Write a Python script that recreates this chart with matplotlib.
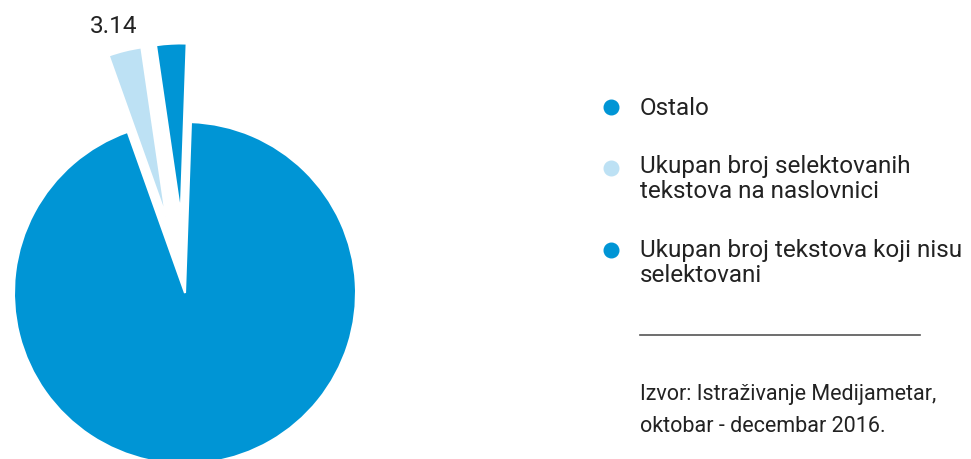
import matplotlib.pyplot as plt

# data
labels = ['Ostalo',
          'Ukupan broj selektovanih\ntekstova na naslovnici',
          'Ukupan broj tekstova koji nisu\nselektovani']
values = [94.0, 3.14, 2.86]
colors = ['#0095d5', '#bde1f4', '#0095d5']
explode = [0.0, 0.46, 0.46]
source = 'Izvor: Istraživanje Medijametar,\noktobar - decembar 2016.'

plt.rcParams['font.family'] = ['Roboto', 'DejaVu Sans']
txt_color = '#222222'

W, H = 971, 459
fig = plt.figure(figsize=(W / 100, H / 100), dpi=100)

# pie axes: 1 data unit = r_px pixels, centre at (cx, cy) px from bottom-left
r_px = 171
cx, cy = 185, 166
side = 2.5 * r_px
ax = fig.add_axes([(cx - side / 2) / W, (cy - side / 2) / H, side / W, side / H])
wedges, _ = ax.pie(values, colors=colors, explode=explode, startangle=88,
                   counterclock=False,
                   wedgeprops=dict(edgecolor='white', linewidth=1.5))
ax.set_xlim(-1.25, 1.25)
ax.set_ylim(-1.25, 1.25)
ax.set_aspect('equal')

# overlay in pixel coords (y down) for labels, legend and source
ov = fig.add_axes([0, 0, 1, 1])
ov.set_xlim(0, W)
ov.set_ylim(H, 0)
ov.axis('off')

# value label for the light slice
ov.text(113.5, 33, f'{values[1]:.2f}', fontsize=17.5, color=txt_color,
        ha='center', va='baseline')

dot_y = [107, 168, 250]
base_y = [115, 197.5, 281.5]   # baseline of the last line of each entry
for lab, c, dy, by in zip(labels, colors, dot_y, base_y):
    ov.plot(611, dy, 'o', ms=10.5, color=c)
    ov.text(640, by, lab, fontsize=17.5, color=txt_color, ha='left',
            va='baseline', linespacing=1.09)

ov.plot([640, 920], [335, 335], color='#555555', lw=1.2)
ov.text(640, 432.5, source, fontsize=15.5, color=txt_color, ha='left',
        va='baseline', linespacing=1.72)

fig.savefig('out.png', dpi=100)
